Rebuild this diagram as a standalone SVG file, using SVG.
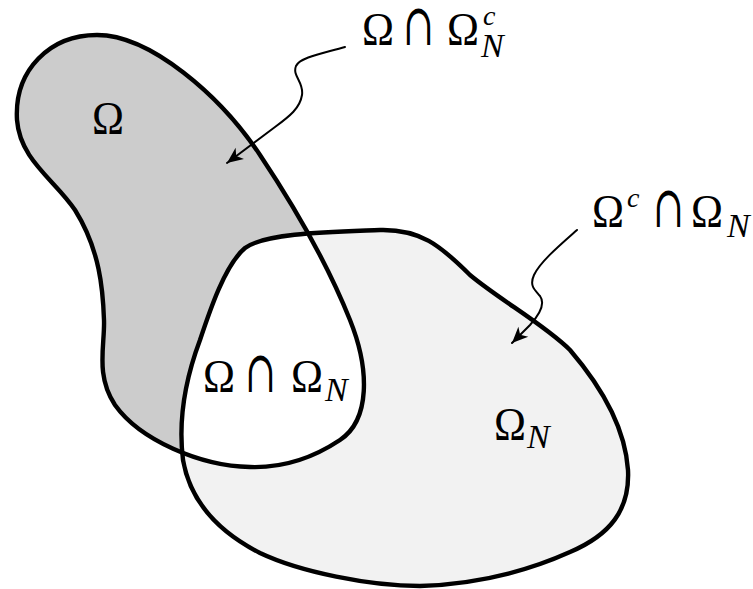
<svg xmlns="http://www.w3.org/2000/svg" xmlns:xlink="http://www.w3.org/1999/xlink" width="753" height="589" viewBox="0 0 753 589">
<style>
.outline{fill:none;stroke:#000;stroke-width:4.4;stroke-linejoin:round}
.conn{fill:none;stroke:#000;stroke-width:2;stroke-linecap:round}
.t{font-family:'Liberation Serif','Times New Roman',serif;fill:#000}
.big{font-size:47px}
.cap{font-family:'DejaVu Serif',serif;font-size:58px}
.sub{font-size:34px;font-style:italic}
.sup{font-size:28px;font-style:italic}
</style>
<defs>
<path id="pO" d="M 97,35 C 150,35 220,95 260,155 C 300,215 330,270 350,320 C 370,370 370,420 340,440 C 310,460 280,468 250,467 C 200,466 140,440 115,405 C 95,375 105,345 104,320 C 103,290 100,250 75,210 C 55,180 20,160 17,120 C 14,70 50,35 97,35 Z"/>
<path id="pN" d="M 200,340 C 210,310 225,265 245,248 C 265,233 330,232 380,230 C 420,229 440,245 470,275 C 500,300 545,325 570,350 C 600,385 625,425 628,470 C 630,510 610,535 570,552 C 530,570 480,584 420,586 C 370,586 300,572 260,553 C 215,530 190,500 183,460 C 178,420 185,380 200,340 Z"/>
<clipPath id="clipO"><use xlink:href="#pO"/></clipPath>
<marker id="arr" viewBox="-17 -8 19 16" refX="0" refY="0" markerWidth="19" markerHeight="16" markerUnits="userSpaceOnUse" orient="auto">
<path d="M0,0 L-16,-7 L-11.5,0 L-16,7 Z" fill="#000"/>
</marker>
</defs>
<g id="omega-n-region"><use xlink:href="#pN" fill="#f2f2f2"/></g>
<g id="omega-region"><use xlink:href="#pO" fill="#cccccc"/></g>
<g id="intersection"><use xlink:href="#pN" fill="#ffffff" clip-path="url(#clipO)"/></g>
<g id="omega"><use xlink:href="#pO" class="outline"/></g>
<g id="omega-n"><use xlink:href="#pN" class="outline"/></g>
<g id="connectors">
<path class="conn" marker-end="url(#arr)" d="M 345,47 C 325,53 300,57 296,66 C 292,76 304,82 302,95 C 300,108 290,116 275,127 L 227,163"/>
<path class="conn" marker-end="url(#arr)" d="M 577,230 C 560,245 540,262 534,275 C 529,286 535,290 540,296 C 545,303 540,314 530,325 L 512,343"/>
</g>
<g id="labels">
<g id="label-omega"><text class="t big" x="92" y="134" textLength="32" lengthAdjust="spacingAndGlyphs">Ω</text></g>
<g id="label-omega-minus">
<text class="t big" x="362" y="45" textLength="32" lengthAdjust="spacingAndGlyphs">Ω</text>
<text class="t cap" x="403" y="45" textLength="31" lengthAdjust="spacingAndGlyphs">∩</text>
<text class="t big" x="447" y="45" textLength="32" lengthAdjust="spacingAndGlyphs">Ω</text>
<text class="t sup" x="483" y="25">c</text>
<text class="t sub" x="481" y="57">N</text>
</g>
<g id="label-omegac-cap">
<text class="t big" x="592" y="227" textLength="32" lengthAdjust="spacingAndGlyphs">Ω</text>
<text class="t sup" x="627" y="207">c</text>
<text class="t cap" x="653" y="227" textLength="31" lengthAdjust="spacingAndGlyphs">∩</text>
<text class="t big" x="691" y="227" textLength="32" lengthAdjust="spacingAndGlyphs">Ω</text>
<text class="t sub" x="727" y="237">N</text>
</g>
<g id="label-cap">
<text class="t big" x="203" y="392" textLength="32" lengthAdjust="spacingAndGlyphs">Ω</text>
<text class="t cap" x="245" y="392" textLength="31" lengthAdjust="spacingAndGlyphs">∩</text>
<text class="t big" x="291" y="392" textLength="32" lengthAdjust="spacingAndGlyphs">Ω</text>
<text class="t sub" x="325" y="401">N</text>
</g>
<g id="label-omega-n">
<text class="t big" x="494" y="440" textLength="32" lengthAdjust="spacingAndGlyphs">Ω</text>
<text class="t sub" x="527" y="448">N</text>
</g>
</g>
</svg>
